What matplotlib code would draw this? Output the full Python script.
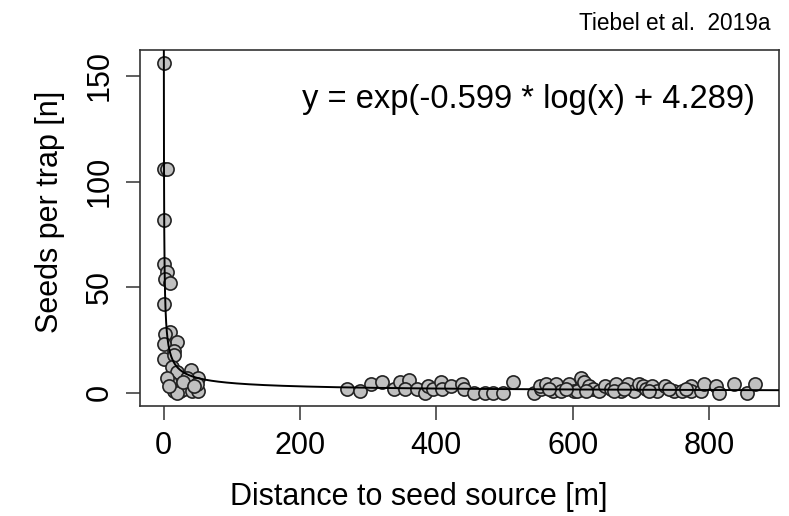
import numpy as np
import matplotlib
matplotlib.use("Agg")
import matplotlib.pyplot as plt

plt.rcParams['font.family'] = ['Liberation Sans', 'DejaVu Sans']

# traps near the source (distance [m], seeds)
near_dist = [0, 0, 5, 0, 0, 5, 2, 10, 0, 10, 2, 20, 0, 15, 1, 15, 13, 40, 24, 20,
             50, 10, 35, 15, 24, 30, 42, 50, 19, 49, 5, 8, 28, 45]
near_seeds = [156, 106, 106, 82, 61, 57, 54, 52, 42, 29, 28, 24, 23, 20, 16, 18, 12, 11, 8, 10,
              7, 5, 7, 1, 1, 2, 1, 1, 0, 4, 7, 3, 5, 3]

# traps far from the source
far_dist = [269, 288, 304, 321, 338, 347, 360, 354, 371, 383, 388, 395, 407, 408, 422,
            438, 441, 455, 471, 483, 498, 513, 544, 554, 552, 561, 571, 576, 583, 595,
            602, 607, 612, 617, 624, 630, 639, 647, 656, 664, 671, 681, 690, 698, 703,
            707, 717, 724, 736, 748, 760, 773, 773, 788, 793, 810, 815, 837, 856, 868,
            565, 590, 620, 660, 676, 712, 742, 767]
far_seeds = [2, 1, 4, 5, 2, 5, 6, 2, 2, 0, 3, 2, 5, 2, 3,
             4, 2, 0, 0, 0, 0, 5, 0, 2, 3, 4, 1, 4, 1, 4,
             1, 1, 7, 5, 3, 2, 1, 3, 2, 4, 1, 4, 1, 4, 3,
             2, 3, 1, 3, 1, 1, 3, 1, 1, 4, 3, 0, 4, 0, 4,
             2, 2, 1, 1, 2, 1, 2, 2]

# fitted model y = exp(a * log(x) + b)
coef_a = -0.599
coef_b = 4.289

dist = np.array(near_dist + far_dist, dtype=float)
seeds = np.array(near_seeds + far_seeds, dtype=float)

fig = plt.figure(figsize=(7.89, 5.16), dpi=100)
ax = fig.add_axes([0.1774, 0.2132, 0.8099, 0.6899])

ax.scatter(dist, seeds, s=90, facecolor='#c0c0c0', edgecolor='#222222',
           linewidth=1.2, zorder=3, clip_on=False)

xc = np.linspace(0.01, 910, 20000)
ax.plot(xc, np.exp(coef_a * np.log(xc) + coef_b), color='black', lw=1.4, zorder=4)

# R style 4% padding of the data range
xr = (dist.min(), dist.max())
yr = (seeds.min(), seeds.max())
ax.set_xlim(xr[0] - 0.04 * (xr[1] - xr[0]), xr[1] + 0.04 * (xr[1] - xr[0]))
ax.set_ylim(yr[0] - 0.04 * (yr[1] - yr[0]), yr[1] + 0.04 * (yr[1] - yr[0]))

ax.set_xticks([0, 200, 400, 600, 800])
ax.set_yticks([0, 50, 100, 150])
ax.tick_params(labelsize=22, length=10, width=1.1, pad=8, color='#333333')
for lab in ax.get_yticklabels():
    lab.set_rotation(90)
    lab.set_va('center')
for sp in ax.spines.values():
    sp.set_linewidth(1.2)
    sp.set_color('#333333')

ax.set_xlabel('Distance to seed source [m]', fontsize=22)
ax.xaxis.set_label_coords(0.437, -0.214)
ax.set_ylabel('Seeds per trap [n]', fontsize=22)
ax.yaxis.set_label_coords(-0.118, 0.545)

ax.text(0.963, 0.862, 'y = exp(-0.599 * log(x) + 4.289)', transform=ax.transAxes,
        ha='right', va='center', fontsize=23.5)
fig.text(0.976, 0.955, 'Tiebel et al.  2019a', ha='right', va='center', fontsize=16.3)

fig.savefig('out.png', dpi=100)
